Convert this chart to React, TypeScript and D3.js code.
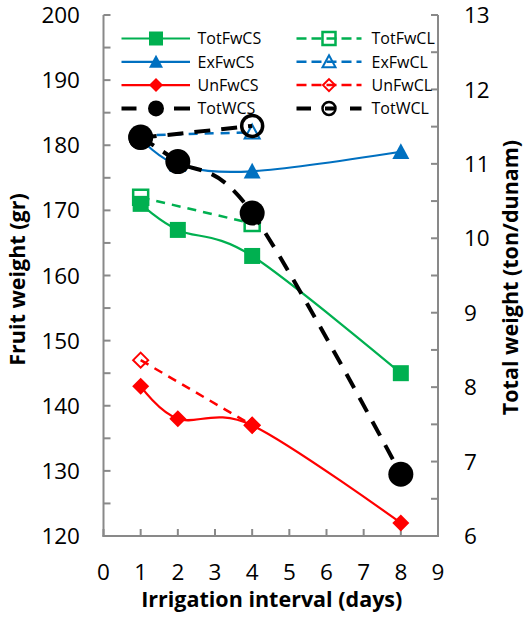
import React from "react";
import * as d3 from "d3";

// Irrigation interval (days) for each measurement series
const daysCS = [1, 2, 4, 8];
const daysCL = [1, 4];

// Fruit weight (gr), left axis
const totFwCS = [171, 167, 163, 145];
const totFwCL = [172, 168];
const exFwCS = [181, 177, 176, 179];
const exFwCL = [181.5, 182];
const unFwCS = [143, 138, 137, 122];
const unFwCL = [147, 137];

// Total weight (ton/dunam), right axis
const totWCS = [11.36, 11.03, 10.34, 6.83];
const totWCL = [11.35, 11.51];

// Axis ticks
const xTicks = [0, 1, 2, 3, 4, 5, 6, 7, 8, 9];
const leftTicks = [120, 130, 140, 150, 160, 170, 180, 190, 200];
const rightTicks = [6, 7, 8, 9, 10, 11, 12, 13];

const GREEN = "#00B050";
const BLUE = "#0070C0";
const RED = "#FF0000";
const BLACK = "#000000";
const AXIS = "#898989";
const FONT = "'Open Sans', 'DejaVu Sans', sans-serif";

const W = 526;
const H = 623;
const left = 103.5;
const right = 438;
const top = 15;
const bottom = 536;

const x = d3.scaleLinear().domain([0, 9]).range([left, right]);
const yL = d3.scaleLinear().domain([120, 200]).range([bottom, top]);
const yR = d3.scaleLinear().domain([6, 13]).range([bottom, top]);

type Marker = "square" | "triangle" | "diamond" | "circle";

function markerPath(kind: Marker, size: number): string {
  const h = size / 2;
  switch (kind) {
    case "square":
      return `M${-h},${-h}H${h}V${h}H${-h}Z`;
    case "triangle":
      return `M0,${-h}L${h},${h * 0.85}L${-h},${h * 0.85}Z`;
    case "diamond":
      return `M0,${-h}L${h},0L0,${h}L${-h},0Z`;
    case "circle":
    default:
      return `M${h},0A${h},${h} 0 1,1 ${-h},0A${h},${h} 0 1,1 ${h},0Z`;
  }
}

type SeriesDef = {
  name: string;
  xs: number[];
  ys: number[];
  axis: "L" | "R";
  color: string;
  width: number;
  dash?: string;
  marker: Marker;
  filled: boolean;
  size: number;
  mStroke: number;
  legendSize: number;
  legendDash?: string;
};

const series: SeriesDef[] = [
  { name: "TotFwCL", xs: daysCL, ys: totFwCL, axis: "L", color: GREEN, width: 2.5, dash: "9,7", marker: "square", filled: false, size: 15, mStroke: 2.5, legendSize: 13, legendDash: "10,5" },
  { name: "ExFwCL", xs: daysCL, ys: exFwCL, axis: "L", color: BLUE, width: 2.5, dash: "9,7", marker: "triangle", filled: false, size: 15, mStroke: 2, legendSize: 13, legendDash: "10,5" },
  { name: "UnFwCL", xs: daysCL, ys: unFwCL, axis: "L", color: RED, width: 2.5, dash: "9,7", marker: "diamond", filled: false, size: 15, mStroke: 2, legendSize: 12, legendDash: "10,5" },
  { name: "TotFwCS", xs: daysCS, ys: totFwCS, axis: "L", color: GREEN, width: 2.2, marker: "square", filled: true, size: 16, mStroke: 0, legendSize: 14 },
  { name: "ExFwCS", xs: daysCS, ys: exFwCS, axis: "L", color: BLUE, width: 2.2, marker: "triangle", filled: true, size: 17, mStroke: 0, legendSize: 14 },
  { name: "UnFwCS", xs: daysCS, ys: unFwCS, axis: "L", color: RED, width: 2.2, marker: "diamond", filled: true, size: 17, mStroke: 0, legendSize: 14 },
  { name: "TotWCS", xs: daysCS, ys: totWCS, axis: "R", color: BLACK, width: 4, dash: "16,11", marker: "circle", filled: true, size: 25, mStroke: 0, legendSize: 16, legendDash: "15,37.5,16" },
  { name: "TotWCL", xs: daysCL, ys: totWCL, axis: "R", color: BLACK, width: 4, dash: "16,11", marker: "circle", filled: false, size: 21, mStroke: 3.5, legendSize: 13, legendDash: "14.5,14,11,14,15" },
];

// legend slots: [column, row]
const legendOrder: [string, number, number][] = [
  ["TotFwCS", 0, 0],
  ["TotFwCL", 1, 0],
  ["ExFwCS", 0, 1],
  ["ExFwCL", 1, 1],
  ["UnFwCS", 0, 2],
  ["UnFwCL", 1, 2],
  ["TotWCS", 0, 3],
  ["TotWCL", 1, 3],
];
const legendCols = [
  { x0: 121.5, x1: 190, m: 156, tx: 197.5 },
  { x0: 296.5, x1: 361.5, m: 329, tx: 371.5 },
];
const legendRowY = (r: number) => 38.5 + r * 23.3;

function SeriesMarks({ s }: { s: SeriesDef }) {
  const y = s.axis === "L" ? yL : yR;
  // smoothed line: uniform Catmull-Rom (cardinal, tension 0)
  const line = d3
    .line<number>()
    .x((_, i) => x(s.xs[i]))
    .y((v) => y(v))
    .curve(d3.curveCardinal.tension(0));
  return (
    <g>
      <path
        d={line(s.ys) ?? ""}
        fill="none"
        stroke={s.color}
        strokeWidth={s.width}
        strokeDasharray={s.dash}
      />
      {s.ys.map((v, i) => (
        <path
          key={i}
          transform={`translate(${x(s.xs[i])},${y(v)})`}
          d={markerPath(s.marker, s.size)}
          fill={s.filled ? s.color : "none"}
          stroke={s.filled ? "none" : s.color}
          strokeWidth={s.mStroke}
        />
      ))}
    </g>
  );
}

export default function App() {
  const leftMinor = d3.range(120, 200.1, 5);
  const rightMinor = d3.range(6, 13.01, 0.5);
  return (
    <svg
      width={W}
      height={H}
      viewBox={`0 0 ${W} ${H}`}
      style={{ position: "absolute", left: 0, top: 0, background: "#fff" }}
      fontFamily={FONT}
    >
      <rect width={W} height={H} fill="#fff" />

      {/* axes */}
      <g stroke={AXIS} strokeWidth={2} fill="none">
        <line x1={left} x2={left} y1={top} y2={bottom + 1} />
        <line x1={right} x2={right} y1={top} y2={bottom + 1} />
        <line x1={left - 1} x2={right + 1} y1={bottom} y2={bottom} />
        {leftMinor.map((v) => (
          <line key={`l${v}`} x1={left} x2={left + 7} y1={yL(v)} y2={yL(v)} />
        ))}
        {rightMinor.map((v) => (
          <line key={`r${v}`} x1={right - 7} x2={right} y1={yR(v)} y2={yR(v)} />
        ))}
        {xTicks.map((v) => (
          <line key={`x${v}`} x1={x(v)} x2={x(v)} y1={bottom} y2={bottom - 7} />
        ))}
      </g>

      {/* tick labels */}
      <g fontSize={22.5} fill="#000">
        {leftTicks.map((v) => (
          <text key={v} x={80} y={yL(v)} dy="0.36em" textAnchor="end">
            {v}
          </text>
        ))}
        {rightTicks.map((v) => (
          <text key={v} x={464} y={yR(v)} dy="0.36em" textAnchor="start">
            {v}
          </text>
        ))}
        {xTicks.map((v) => (
          <text key={v} x={x(v)} y={580} textAnchor="middle">
            {v}
          </text>
        ))}
      </g>

      {/* axis titles */}
      <g fontSize={21.5} fontWeight="bold" fill="#000">
        <text x={(left + right) / 2 + 1} y={607} textAnchor="middle">
          Irrigation interval (days)
        </text>
        <text transform={`translate(25,${(top + bottom) / 2 + 4}) rotate(-90)`} textAnchor="middle">
          Fruit weight (gr)
        </text>
        <text transform={`translate(518,${(top + bottom) / 2 + 2}) rotate(-90)`} textAnchor="middle">
          Total weight (ton/dunam)
        </text>
      </g>

      {/* data series */}
      {series.map((s) => (
        <SeriesMarks key={s.name} s={s} />
      ))}

      {/* legend */}
      <g fontSize={16} fill="#000">
        {legendOrder.map(([name, c, r]) => {
          const s = series.find((d) => d.name === name)!;
          const col = legendCols[c];
          const ly = legendRowY(r);
          return (
            <g key={name}>
              <line
                x1={col.x0}
                x2={col.x1}
                y1={ly}
                y2={ly}
                stroke={s.color}
                strokeWidth={s.width}
                strokeDasharray={s.legendDash}
              />
              <path
                transform={`translate(${col.m},${ly})`}
                d={markerPath(s.marker, s.legendSize)}
                fill={s.filled ? s.color : "none"}
                stroke={s.filled ? "none" : s.color}
                strokeWidth={s.filled ? 0 : Math.min(s.mStroke, 2.5)}
              />
              <text x={col.tx} y={ly} dy="0.36em">
                {name}
              </text>
            </g>
          );
        })}
      </g>
    </svg>
  );
}
